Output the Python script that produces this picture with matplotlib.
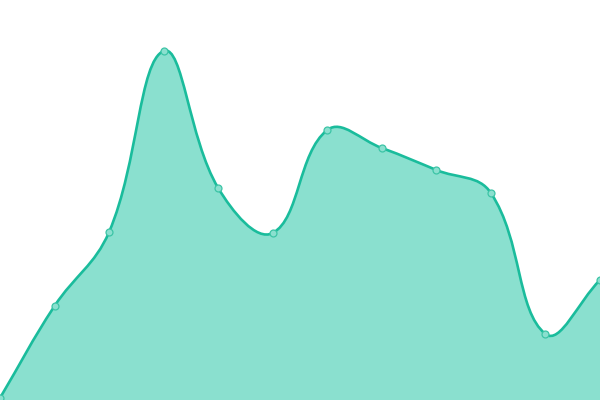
import numpy as np
import matplotlib
matplotlib.use("Agg")
import matplotlib.pyplot as plt
from matplotlib.path import Path
from matplotlib.patches import PathPatch

# data
labels = list(range(12))
values = [2, 94, 168, 349, 212, 167, 270, 252, 230, 207, 66, 120]

LINE = "#1abc9c"
FILL = "#8ae0cf"
TENSION = 0.4

fig = plt.figure(figsize=(6, 4), dpi=100)
ax = fig.add_axes([0, 0, 1, 1])
ax.set_xlim(0, len(labels) - 1)
ax.set_ylim(0, 400)
ax.axis("off")

x = np.array(labels, dtype=float)
y = np.array(values, dtype=float)
pts = ax.transData.transform(np.column_stack([x, y]))
n = len(pts)
W, H = fig.bbox.width, fig.bbox.height

cp_prev = np.zeros_like(pts)
cp_next = np.zeros_like(pts)
for i in range(n):
    cur = pts[i]
    prv = pts[i - 1] if i > 0 else cur
    nxt = pts[i + 1] if i < n - 1 else cur
    d01 = np.hypot(*(cur - prv))
    d12 = np.hypot(*(nxt - cur))
    tot = d01 + d12
    s01 = d01 / tot if tot else 0
    s12 = d12 / tot if tot else 0
    fa = TENSION * s01
    fb = TENSION * s12
    cp_prev[i] = cur - fa * (nxt - prv)
    cp_next[i] = cur + fb * (nxt - prv)
# cap control points to the chart area
cp_prev[:, 0] = np.clip(cp_prev[:, 0], 0, W)
cp_next[:, 0] = np.clip(cp_next[:, 0], 0, W)
cp_prev[:, 1] = np.clip(cp_prev[:, 1], 0, H)
cp_next[:, 1] = np.clip(cp_next[:, 1], 0, H)

verts = [pts[0]]
codes = [Path.MOVETO]
for i in range(n - 1):
    verts += [cp_next[i], cp_prev[i + 1], pts[i + 1]]
    codes += [Path.CURVE4] * 3
inv = ax.transData.inverted()
verts_d = inv.transform(np.array(verts))

line_path = Path(verts_d, codes)
fill_verts = np.vstack([verts_d, [[x[-1], 0], [x[0], 0], verts_d[0]]])
fill_codes = codes + [Path.LINETO, Path.LINETO, Path.CLOSEPOLY]
fill_path = Path(fill_verts, fill_codes)

ax.add_patch(PathPatch(fill_path, facecolor=FILL, edgecolor="none", zorder=1))
ax.add_patch(PathPatch(line_path, facecolor="none", edgecolor=LINE, lw=1.9, zorder=2))
ax.plot(x, y, "o", ms=5, mfc=FILL, mec="#3cc4a6", mew=0.9, zorder=3, clip_on=True)

fig.savefig("out.png", dpi=100)
